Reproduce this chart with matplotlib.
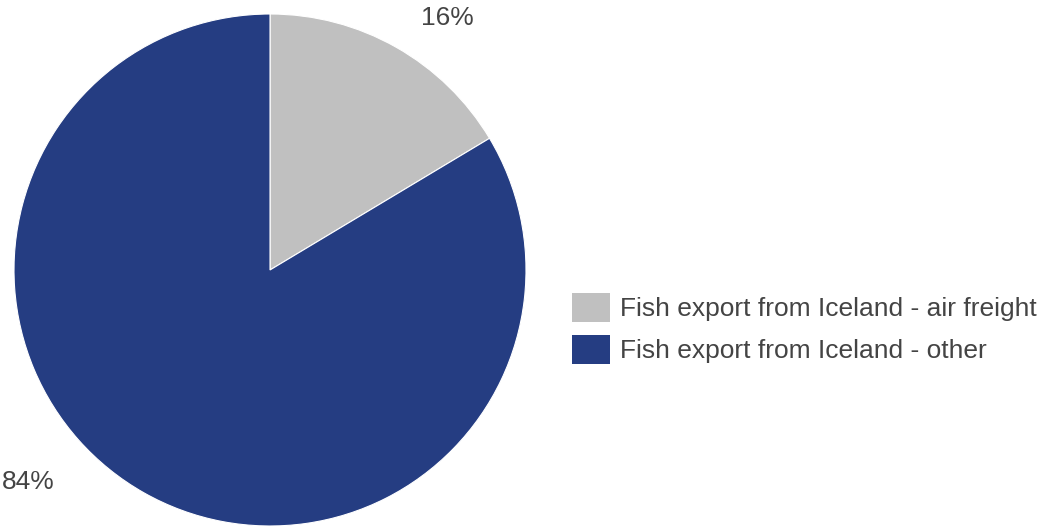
import matplotlib.pyplot as plt

plt.rcParams['font.family'] = ['Liberation Sans', 'DejaVu Sans']

labels = ['Fish export from Iceland - air freight', 'Fish export from Iceland - other']
values = [16.4, 83.6]
colors = ['#c0c0c0', '#253d82']
pct_text = ['16%', '84%']
text_color = '#444444'

fig = plt.figure(figsize=(10.41, 5.27), dpi=100)
W, H = 1041, 527
# pie centre (270,270) px, radius 256 px
ax = fig.add_axes([14 / W, 1 - 526 / H, 512 / W, 512 / H])
wedges, _ = ax.pie(values, colors=colors, startangle=90, counterclock=False,
                   radius=1.0, wedgeprops=dict(edgecolor='white', linewidth=0.8))
ax.set_xlim(-1, 1)
ax.set_ylim(-1, 1)
ax.set_aspect('equal')
ax.axis('off')

# percentage labels outside the pie (figure pixel positions)
label_pos = [(447, 18), (28, 482)]
for (px, py), t in zip(label_pos, pct_text):
    fig.text(px / W, 1 - py / H, t, ha='center', va='center',
             fontsize=19, color=text_color)

leg = fig.legend(wedges, labels, loc='upper left',
                 bbox_to_anchor=(572 / W, 1 - 295 / H),
                 frameon=False, fontsize=19, labelcolor=text_color,
                 handlelength=1.44, handleheight=1.06, handletextpad=0.38,
                 labelspacing=0.6, borderaxespad=0, borderpad=0)
for h in leg.legend_handles:
    h.set_edgecolor('none')
    h.set_height(h.get_height() * 1.15)
    h.set_y(h.get_y() - h.get_height() * 0.07)

fig.savefig('out.png', dpi=100)
